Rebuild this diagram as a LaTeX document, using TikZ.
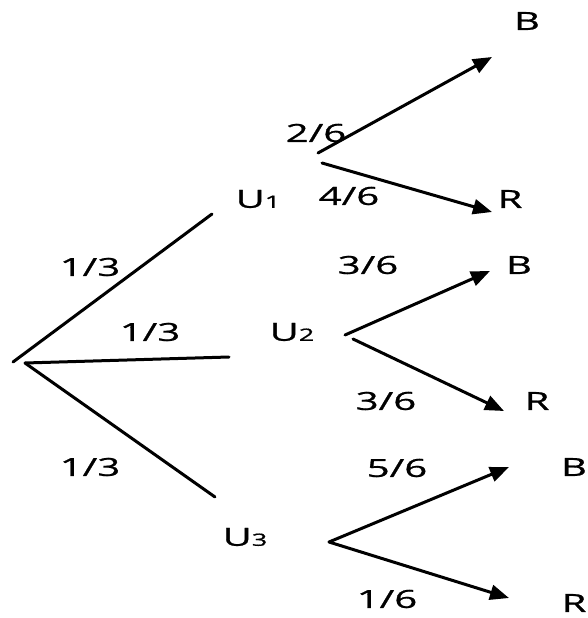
\documentclass[tikz,border=0pt]{standalone}
\usepackage{fontspec}
\setmainfont{Open Sans}
\newfontfamily\treefont{Open Sans}[FakeBold=0.7]
\usetikzlibrary{arrows.meta}

\tikzset{
  branch/.style={line width=3pt, line cap=round},
  arrowbranch/.style={branch, -{Triangle[length=19pt,width=15pt]}},
  prob/.style={font=\treefont\fontsize{25}{30}\selectfont, inner sep=0pt},
  state/.style={prob},
}
% the reference text is drawn wide
\newcommand{\wide}[1]{\scalebox{1.6}[1]{#1}}
\newcommand{\urn}[1]{\wide{U{\fontsize{17}{20}\selectfont #1}}}

\begin{document}
\begin{tikzpicture}[x=1pt, y=-1pt]
  \useasboundingbox (0,0) rectangle (587,618);

  % first stage: choice of urn
  \coordinate (rootA) at (13,362);
  \coordinate (rootB) at (25,363);
  \coordinate (u1in) at (212,214);
  \coordinate (u2in) at (229,357);
  \coordinate (u3in) at (215,497);

  \node[state] (u1) at (258,199) {\urn{1}};
  \node[state] (u2) at (292,332) {\urn{2}};
  \node[state] (u3) at (245,537) {\urn{3}};

  \draw[branch] (rootA) -- (u1in);
  \draw[branch] (rootB) -- (u2in);
  \draw[branch] (rootB) -- (u3in);

  \node[prob] (p1) at (90,267) {\wide{1/3}};
  \node[prob] (p2) at (150,332) {\wide{1/3}};
  \node[prob] (p3) at (90,467) {\wide{1/3}};

  % second stage: colour of the ball
  \coordinate (u1outB) at (318,153);
  \coordinate (u1outR) at (322,163);
  \coordinate (u1tipB) at (492,57);
  \coordinate (u1tipR) at (492,212);
  \coordinate (u2outB) at (345,335);
  \coordinate (u2outR) at (353,339);
  \coordinate (u2tipB) at (490,271);
  \coordinate (u2tipR) at (504,411);
  \coordinate (u3out) at (329,542);
  \coordinate (u3tipB) at (509,467);
  \coordinate (u3tipR) at (509,598);

  \draw[arrowbranch] (u1outB) -- (u1tipB);
  \draw[arrowbranch] (u1outR) -- (u1tipR);
  \draw[arrowbranch] (u2outB) -- (u2tipB);
  \draw[arrowbranch] (u2outR) -- (u2tipR);
  \draw[arrowbranch] (u3out) -- (u3tipB);
  \draw[arrowbranch] (u3out) -- (u3tipR);

  \node[state] (b1) at (527,21) {\wide{B}};
  \node[state] (r1) at (510,199) {\wide{R}};
  \node[state] (b2) at (519,265) {\wide{B}};
  \node[state] (r2) at (537,401) {\wide{R}};
  \node[state] (b3) at (574,467) {\wide{B}};
  \node[state] (r3) at (574,603) {\wide{R}};

  \node[prob] (q1b) at (316,133) {\wide{2/6}};
  \node[prob] (q1r) at (349,196) {\wide{4/6}};
  \node[prob] (q2b) at (368,265) {\wide{3/6}};
  \node[prob] (q2r) at (386,401) {\wide{3/6}};
  \node[prob] (q3b) at (397,468) {\wide{5/6}};
  \node[prob] (q3r) at (387,599) {\wide{1/6}};
\end{tikzpicture}
\end{document}
